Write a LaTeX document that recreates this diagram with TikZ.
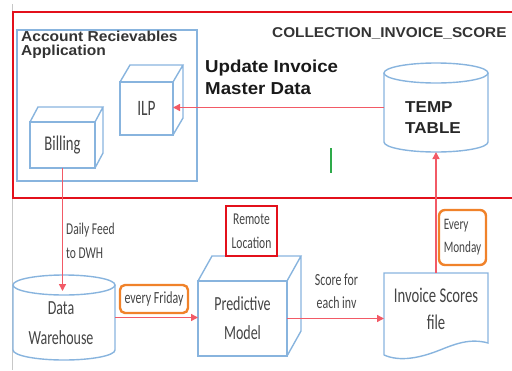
\documentclass[tikz,border=0pt]{standalone}
\usepackage{fontspec}
\setmainfont{Liberation Sans}
\newfontfamily\wsans[FakeStretch=1.08]{Liberation Sans}
\newfontfamily\nsans[FakeStretch=0.7]{Carlito}
\usetikzlibrary{arrows.meta}
\definecolor{bl}{HTML}{88B4DE}
\definecolor{rd}{HTML}{E3101B}
\definecolor{arc}{HTML}{F25A66}
\definecolor{og}{HTML}{F0822A}
\definecolor{gt}{HTML}{444444}
\definecolor{gn}{HTML}{2EAA4A}
\tikzset{
  bline/.style={draw=bl, line width=1.4pt},
  face/.style={draw=bl, line width=1.4pt, inner sep=0pt, outer sep=0pt, text=gt, align=center},
  holder/.style={inner sep=0pt, outer sep=0pt},
  arr/.style={draw=arc, line width=1.4pt, -{Triangle[length=7pt,width=7pt]}},
  smalltxt/.style={font=\nsans\fontsize{16.5}{24}\selectfont, text=gt, inner sep=0pt},
  bigtxt/.style={font=\nsans\fontsize{20}{29}\selectfont, text=gt, inner sep=0pt, align=center},
}
\begin{document}
\begin{tikzpicture}[x=1pt,y=-1pt]
\useasboundingbox (0,0) rectangle (512,370);
% left gray rule
\draw[black!22, line width=0.8pt] (12,4) -- (12,370);
% outer red box
\node[draw=rd, line width=2.6pt, minimum width=503pt, minimum height=186pt, anchor=north west, holder] (outer) at (13,12) {};
% account receivables box
\node[draw=bl, line width=1.3pt, minimum width=180pt, minimum height=151pt, anchor=north west, holder] (arbox) at (17,30) {};
\node[anchor=west, align=left, inner sep=0pt, text=black!80, font=\wsans\bfseries\fontsize{14.4}{13.5}\selectfont] (artext) at (21,45) {Account Recievables\\Application};
% ILP cube
\node[face, minimum width=53pt, minimum height=53pt, font=\nsans\fontsize{22}{24}\selectfont] (ilp) at (146.5,108.5) {ILP};
\draw[bline] (ilp.north west) -- ++(10,-17) -- ([shift={(10,-17)}]ilp.north east) -- (ilp.north east)
  ([shift={(10,-17)}]ilp.north east) -- ([shift={(10,-17)}]ilp.south east) -- (ilp.south east);
% Billing cube
\node[face, minimum width=65pt, minimum height=46pt, font=\nsans\fontsize{21}{24}\selectfont] (bill) at (62.5,145) {Billing};
\draw[bline] (bill.north west) -- ++(8,-15) -- ([shift={(8,-15)}]bill.north east) -- (bill.north east)
  ([shift={(8,-15)}]bill.north east) -- ([shift={(8,-15)}]bill.south east) -- (bill.south east);
% update text
\node[anchor=west, align=left, inner sep=0pt, text=black!90, font=\wsans\bfseries\fontsize{17.3}{22}\selectfont] (upd) at (205,77) {Update Invoice\\Master Data};
% collection text
\node[anchor=west, inner sep=0pt, text=black!80, font=\wsans\bfseries\fontsize{14.2}{16}\selectfont] (coll) at (272,33) {COLLECTION\_INVOICE\_SCORE};
% TEMP TABLE cylinder
\node[holder, minimum width=104pt, minimum height=89pt] (tt) at (436,107.5) {};
\draw[bline] ([yshift=-10pt]tt.north) ellipse [x radius=52pt, y radius=10pt];
\draw[bline] ([yshift=-10pt]tt.north west) -- ([yshift=10pt]tt.south west)
  arc[start angle=180, end angle=360, x radius=52pt, y radius=10pt] -- ([yshift=-10pt]tt.north east);
\node[anchor=west, align=left, inner sep=0pt, text=black!85, font=\wsans\bfseries\fontsize{15.8}{21}\selectfont] (tttext) at (405,117.5) {TEMP\\TABLE};
% green mark
\draw[gn, line width=2pt] (331,148) -- (331,173);
% Data Warehouse cylinder
\node[holder, minimum width=102pt, minimum height=85pt] (dw) at (64,317.5) {};
\draw[bline] ([yshift=-10pt]dw.north) ellipse [x radius=51pt, y radius=10pt];
\draw[bline] ([yshift=-10pt]dw.north west) -- ([yshift=10pt]dw.south west)
  arc[start angle=180, end angle=360, x radius=51pt, y radius=10pt] -- ([yshift=-10pt]dw.north east);
\node[bigtxt, font=\nsans\fontsize{20}{30}\selectfont] (dwtext) at (61,323) {Data\\Warehouse};
\coordinate (dwin) at (62,291);
% Predictive Model cube
\node[face, minimum width=89pt, minimum height=75pt, font=\nsans\fontsize{20}{29}\selectfont] (pm) at (242.5,318.5) {Predictive\\Model};
\draw[bline] (pm.north west) -- ++(14,-25) -- ([shift={(14,-25)}]pm.north east) -- (pm.north east)
  ([shift={(14,-25)}]pm.north east) -- ([shift={(14,-25)}]pm.south east) -- (pm.south east);
% Remote location
\node[draw=rd, line width=2.4pt, minimum width=51pt, minimum height=50pt, inner sep=0pt, align=center, text=gt, font=\nsans\fontsize{16.5}{24}\selectfont] (rl) at (251.5,231) {Remote\\Location};
% Invoice scores file
\node[holder, minimum width=104pt, minimum height=82pt] (isf) at (436,314) {};
\draw[bline] (isf.south west) -- (isf.north west) -- (isf.north east) -- (488,343)
  .. controls (470,338) and (455,344) .. (440,350)
  .. controls (420,358) and (400,362) .. (isf.south west);
\node[bigtxt, font=\nsans\fontsize{21}{27}\selectfont] (isftext) at (436,308.5) {Invoice Scores\\file};
% labels
\node[smalltxt, anchor=west, align=left] (daily) at (66,240.5) {Daily Feed\\to DWH};
\node[smalltxt, align=center, font=\nsans\fontsize{17}{23}\selectfont] (score) at (336.5,291.5) {Score for\\each inv};
\node[draw=og, line width=2.4pt, rounded corners=5pt, minimum width=68pt, minimum height=28pt, inner sep=0pt, text=gt, font=\nsans\fontsize{17}{20}\selectfont] (ef) at (154,299) {every Friday};
\node[draw=og, line width=2.4pt, rounded corners=6pt, minimum width=47pt, minimum height=55pt, inner sep=0pt, align=left, text=gt, font=\nsans\fontsize{16}{23}\selectfont] (em) at (462.5,237.5) {Every\\Monday};
% connectors
\draw[arr] (tt.west) -- (tt.west -| ilp.east);
\draw[arr] (bill.south) -- (bill.south |- dwin);
\draw[arr] (dw.east) -- (dw.east -| pm.west);
\draw[arr] (pm.east) -- (pm.east -| isf.west);
\draw[arr] (isf.north) -- (tt.south);
\end{tikzpicture}
\end{document}
